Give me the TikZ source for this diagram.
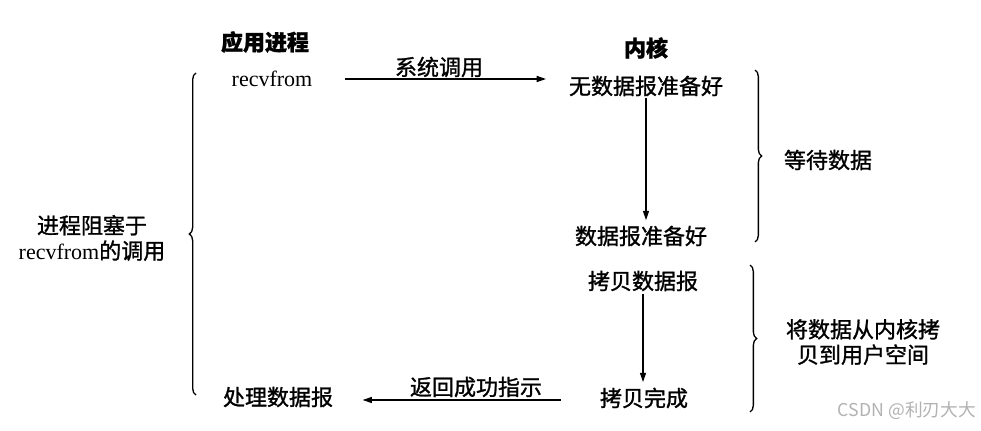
\documentclass[tikz,border=0pt]{standalone}
\usepackage{fontspec}
\setmainfont{Liberation Serif}
\newfontfamily\cjk[FakeBold=1.2]{Noto Sans CJK SC}
\newfontfamily\cjkplain{Noto Sans CJK SC}
\usetikzlibrary{arrows.meta,decorations.pathreplacing}
\begin{document}
\begin{tikzpicture}[x=0.75pt,y=-0.75pt,
  txt/.style={font=\cjk\fontsize{16.5}{19}\selectfont, inner sep=0pt, align=center},
  head/.style={font=\cjk\bfseries\fontsize{16.5}{19}\selectfont, inner sep=0pt},
  rom/.style={font=\rmfamily\fontsize{16.5}{19}\selectfont, inner sep=0pt},
  arr/.style={-{Triangle[length=7pt,width=4.5pt]}, line width=1pt},
  brc/.style={decorate, decoration={brace, amplitude=5pt}, line width=1pt}]
\useasboundingbox[fill=white] (0,0) rectangle (981,431);

\node[head] (app) at (265,42) {应用进程};
\node[head] (kern) at (646,48) {内核};
\node[rom] (recv) at (272,79) {recvfrom};
\node[txt] (nodata) at (646,86) {无数据报准备好};
\node[txt] (ready) at (641,236) {数据报准备好};
\node[txt] (copy) at (643,281) {拷贝数据报};
\node[txt] (done) at (644,398) {拷贝完成};
\node[txt] (proc) at (278,397) {处理数据报};
\node[txt] (sys) at (439,67) {系统调用};
\node[txt] (ret) at (476,387) {返回成功指示};
\node[txt] (block) at (92,238) {进程阻塞于\\{\rmfamily recvfrom}的调用};
\node[txt] (wait) at (828,160) {等待数据};
\node[txt] (copylbl) at (863,342) {将数据从内核拷\\贝到用户空间};
\node[font=\cjkplain\fontsize{13.3}{15}\selectfont, text=black!30, inner sep=0pt] (csdn) at (907,411) {CSDN @利刃大大};

\draw[arr, shorten <=24pt, shorten >=17pt] (recv.east) -- (recv.east -| nodata.west);
\draw[arr, shorten <=1pt, shorten >=4pt] (nodata.south) -- (nodata.south |- ready.north);
\draw[arr, shorten <=2pt, shorten >=4pt] (copy.south) -- (copy.south |- done.north);
\draw[arr, shorten <=29pt, shorten >=22pt] ([yshift=-1.5pt]done.west) -- ([yshift=-1.5pt]done.west -| proc.east);

\draw[brc] (196,395) -- (196,73);
\draw[brc] (755,70) -- (755,242);
\draw[brc] (750,265) -- (750,412);
\end{tikzpicture}
\end{document}
